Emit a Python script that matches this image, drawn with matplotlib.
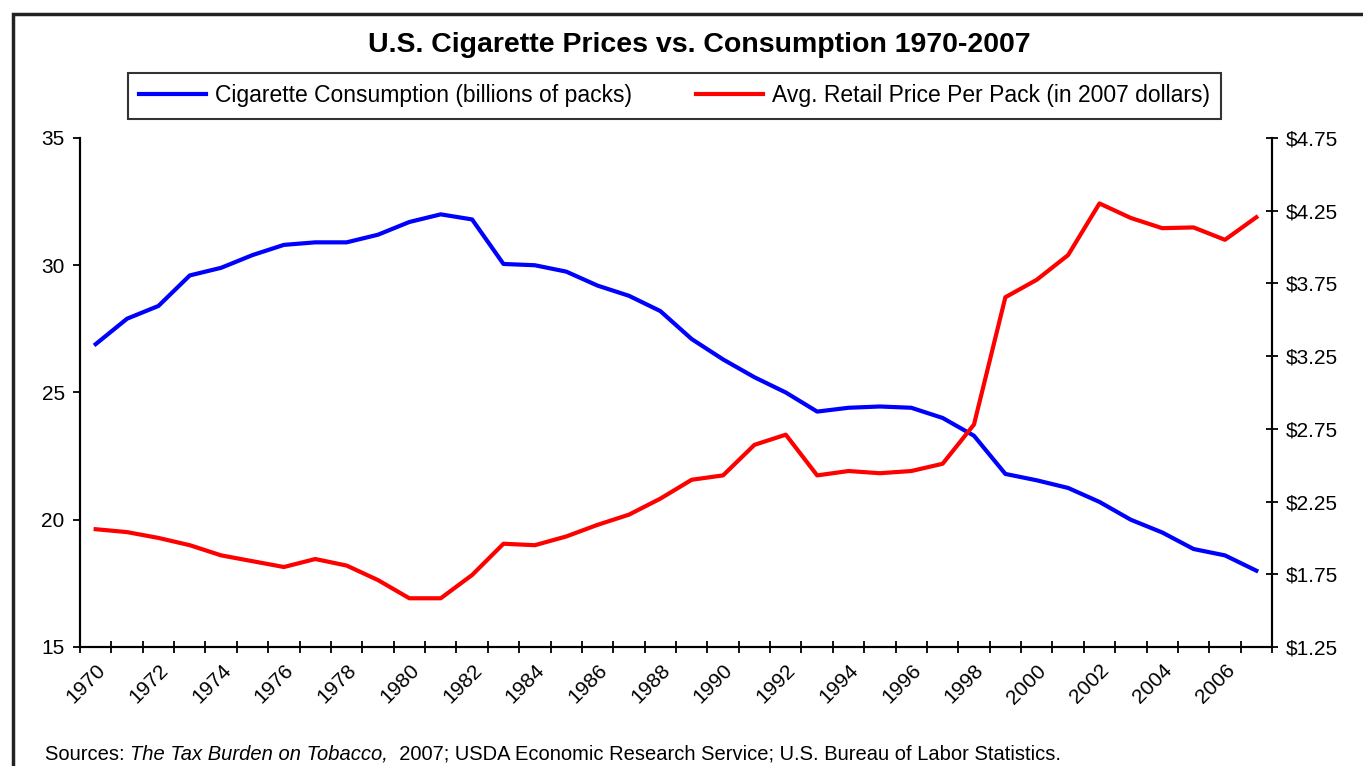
import numpy as np
import matplotlib
matplotlib.use('Agg')
import matplotlib.pyplot as plt
from matplotlib.patches import Rectangle

plt.rcParams['font.family'] = ['Liberation Sans', 'DejaVu Sans']

# data
years = list(range(1970, 2008))
consumption = [26.9, 27.9, 28.4, 29.6, 29.9, 30.4, 30.8, 30.9, 30.9, 31.2,
               31.7, 32.0, 31.8, 30.05, 30.0, 29.75, 29.2, 28.8, 28.2, 27.1,
               26.3, 25.6, 25.0, 24.25, 24.4, 24.45, 24.4, 24.0, 23.3, 21.8,
               21.55, 21.25, 20.7, 20.0, 19.5, 18.85, 18.6, 18.0]
price = [2.06, 2.04, 2.00, 1.95, 1.88, 1.84, 1.80, 1.855, 1.81, 1.71,
         1.585, 1.585, 1.745, 1.96, 1.95, 2.01, 2.09, 2.16, 2.27, 2.40,
         2.43, 2.64, 2.71, 2.43, 2.46, 2.445, 2.46, 2.51, 2.78, 3.655,
         3.775, 3.945, 4.30, 4.20, 4.13, 4.135, 4.05, 4.205]
cons_label = 'Cigarette Consumption (billions of packs)'
price_label = 'Avg. Retail Price Per Pack (in 2007 dollars)'
title = 'U.S. Cigarette Prices vs. Consumption 1970-2007'

fig = plt.figure(figsize=(13.63, 7.66), dpi=100)
ax = fig.add_axes([80 / 1363, 119 / 766, 1192 / 1363, 509 / 766])
ax2 = ax.twinx()

x = np.arange(len(years))
l1, = ax.plot(x, consumption, color='#0000ff', lw=3)
l2, = ax2.plot(x, price, color='#ff0000', lw=3)

ax.set_xlim(-0.5, len(years) - 0.5)
ax.set_ylim(15, 35)
ax.set_yticks([15, 20, 25, 30, 35])
ax2.set_ylim(1.25, 4.75)
ax2.set_yticks(np.arange(1.25, 4.76, 0.5))
ax2.set_yticklabels(['$%.2f' % v for v in np.arange(1.25, 4.76, 0.5)])

# tick marks between categories, labels on every other year
ax.set_xticks(np.arange(-0.5, len(years), 1.0))
ax.set_xticklabels([])
ax.set_xticks(x[::2], minor=True)
ax.set_xticklabels([str(y) for y in years[::2]], minor=True,
                   rotation=45, ha='right', va='top', rotation_mode='anchor')
ax.tick_params(axis='x', which='major', direction='inout', length=8, width=1.3)
ax.tick_params(axis='x', which='minor', length=0, pad=10, labelsize=15)
ax.tick_params(axis='y', direction='out', length=5, width=1.3, labelsize=15, pad=6)
ax2.tick_params(axis='y', direction='inout', length=8, width=1.3, labelsize=15, pad=6)

for a in (ax, ax2):
    a.spines['top'].set_visible(False)
    for s in ('left', 'right', 'bottom'):
        a.spines[s].set_linewidth(1.5)
ax.patch.set_visible(False)

fig.text(0.513, 0.941, title, ha='center', va='center',
         fontsize=20.5, fontweight='bold')

leg = fig.legend([l1, l2], [cons_label, price_label], loc='center',
                 bbox_to_anchor=(0.495, 0.875), ncol=2, fontsize=16.5,
                 frameon=True, fancybox=False, handlelength=2.9,
                 columnspacing=2.8, borderpad=0.5, handletextpad=0.4)
leg.get_frame().set_edgecolor('black')
leg.get_frame().set_linewidth(1.5)

# outer chart border
fig.patches.append(Rectangle((13 / 1363, -0.05), 1.1, 0.05 + 752 / 766,
                             transform=fig.transFigure, fill=False,
                             edgecolor='#222222', lw=2.5))

t1 = fig.text(45 / 1363, 12 / 766, 'Sources: ', fontsize=14.5, ha='left', va='center')
t2 = fig.text(0, 0, 'The Tax Burden on Tobacco,', fontsize=14.5, style='italic')
t3 = fig.text(0, 0, '  2007; USDA Economic Research Service; U.S. Bureau of Labor Statistics.',
              fontsize=14.5)
fig.canvas.draw()
r = fig.canvas.get_renderer()
bb = t1.get_window_extent(r)
t2.set_position(((bb.x1) / fig.bbox.width, t1.get_position()[1]))
t2.set_va('center')
bb2 = t2.get_window_extent(r)
t3.set_position(((bb2.x1) / fig.bbox.width, t1.get_position()[1]))
t3.set_va('center')

fig.savefig('out.png', dpi=100)
